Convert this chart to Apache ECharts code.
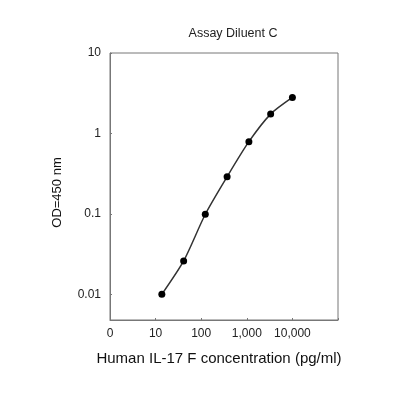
<!DOCTYPE html>
<html><head><meta charset="utf-8">
<script src="https://cdn.jsdelivr.net/npm/echarts@6/dist/echarts.min.js"></script>
<style>html,body{margin:0;padding:0;background:#fff}#c{width:400px;height:400px}</style>
</head><body><div id="c"></div>
<script>
const concentrations = [13.7, 41.2, 123, 370, 1111, 3333, 10000];
const odValues = [0.010, 0.026, 0.099, 0.29, 0.79, 1.74, 2.8];
const xTickLabels = {1: '0', 10: '10', 100: '100', 1000: '1,000', 10000: '10,000'};
const yTickLabels = {0.01: '0.01', 0.1: '0.1', 1: '1', 10: '10'};

function lookup(map, v) {
  for (const k in map) { if (Math.abs(Math.log10(v) - Math.log10(+k)) < 1e-6) return map[k]; }
  return '';
}

const chart = echarts.init(document.getElementById('c'));
chart.setOption({
  backgroundColor: '#fff',
  animation: false,
  title: {
    text: 'Assay Diluent C', left: 228, top: 22, textAlign: 'center',
    textStyle: {fontFamily: 'Liberation Sans', fontSize: 12.5, fontWeight: 'normal', color: '#222'}
  },
  grid: {left: 110, right: 62, top: 53, bottom: 80, show: true, borderColor: '#777', borderWidth: 1},
  xAxis: {
    type: 'log', logBase: 10, min: 1, max: 100000,
    name: 'Human IL-17 F concentration (pg/ml)', nameLocation: 'middle', nameGap: 31,
    nameTextStyle: {fontFamily: 'Liberation Sans', fontSize: 15, color: '#111', padding: [0, 10, 0, 0]},
    axisLine: {lineStyle: {color: '#777'}},
    axisTick: {show: true, inside: true, length: 2, lineStyle: {color: '#777'}},
    splitLine: {show: false},
    minorTick: {show: false},
    axisLabel: {fontFamily: 'Liberation Sans', fontSize: 12, color: '#222', margin: 8,
      formatter: v => lookup(xTickLabels, v)}
  },
  yAxis: {
    type: 'log', logBase: 10, min: 0.0048, max: 10,
    name: 'OD=450 nm', nameLocation: 'middle', nameGap: 46, nameRotate: 90,
    nameTextStyle: {fontFamily: 'Liberation Sans', fontSize: 13, color: '#111', padding: [0, 12, 0, 0]},
    axisLine: {lineStyle: {color: '#777'}},
    axisTick: {show: true, inside: true, length: 2, lineStyle: {color: '#777'}},
    splitLine: {show: false},
    axisLabel: {fontFamily: 'Liberation Sans', fontSize: 12, color: '#222', margin: 9,
      formatter: v => lookup(yTickLabels, v)}
  },
  series: [{
    type: 'line',
    data: concentrations.map((c, i) => [c, odValues[i]]),
    smooth: 0.25,
    symbol: 'circle', symbolSize: 7,
    itemStyle: {color: '#000'},
    lineStyle: {color: '#333', width: 1.5}
  }]
});
</script></body></html>
